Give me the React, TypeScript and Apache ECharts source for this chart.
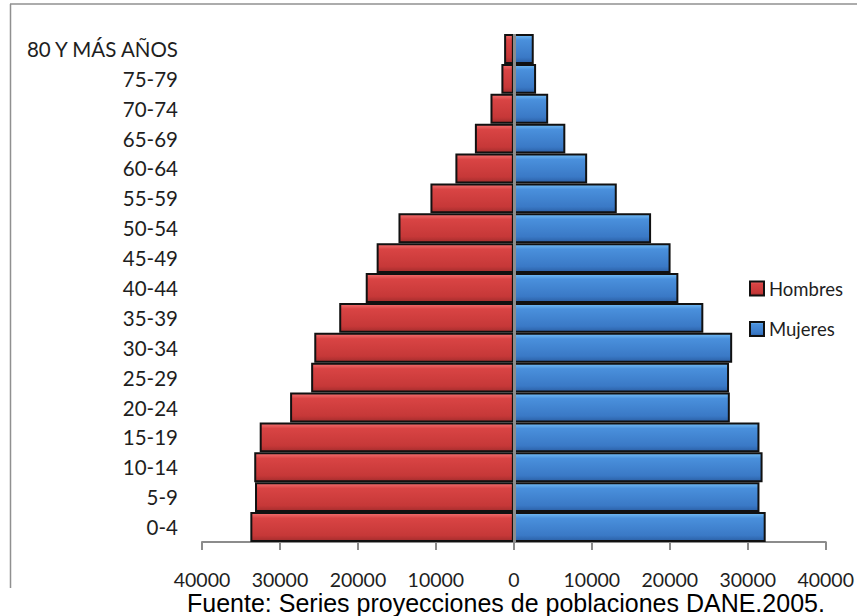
import React, { useEffect, useRef } from "react";
import * as echarts from "echarts";

// Age groups, bottom to top
const ageGroups = [
  "0-4",
  "5-9",
  "10-14",
  "15-19",
  "20-24",
  "25-29",
  "30-34",
  "35-39",
  "40-44",
  "45-49",
  "50-54",
  "55-59",
  "60-64",
  "65-69",
  "70-74",
  "75-79",
  "80 Y MÁS AÑOS",
];

// Population per age group
const hombres = [
  33800, 33200, 33300, 32600, 28700, 26000, 25600, 22400, 19000, 17600, 14800,
  10700, 7500, 5000, 3000, 1600, 1250,
];
const mujeres = [
  32300, 31500, 31900, 31500, 27700, 27600, 28000, 24300, 21100, 20100, 17600,
  13200, 9400, 6600, 4400, 2850, 2550,
];

const seriesNames = ["Hombres", "Mujeres"];
const sourceNote = "Fuente: Series proyecciones de poblaciones DANE.2005.";

const axisGray = "#8c8c8c";
const textColor = "#1e1e1e";
const labelFont = "Lato";

const redFill = new echarts.graphic.LinearGradient(0, 0, 0, 1, [
  { offset: 0, color: "#f27070" },
  { offset: 0.18, color: "#d94444" },
  { offset: 0.8, color: "#c63838" },
  { offset: 1, color: "#a42d2d" },
]);
const blueFill = new echarts.graphic.LinearGradient(0, 0, 0, 1, [
  { offset: 0, color: "#74bdf5" },
  { offset: 0.18, color: "#4a90dc" },
  { offset: 0.8, color: "#3a79c6" },
  { offset: 1, color: "#2b60a6" },
]);

export default function App() {
  const ref = useRef<HTMLDivElement>(null);

  useEffect(() => {
    if (!ref.current) return;
    const chart = echarts.init(ref.current, undefined, { renderer: "svg" });

    chart.setOption({
      animation: false,
      backgroundColor: "#ffffff",
      grid: { left: 202, right: 31, top: 34, bottom: 74, containLabel: false },
      xAxis: {
        type: "value",
        min: -40000,
        max: 40000,
        interval: 10000,
        axisLine: { show: true, lineStyle: { color: axisGray, width: 2 } },
        axisTick: { show: true, length: 8, lineStyle: { color: axisGray, width: 2 } },
        splitLine: { show: false },
        axisLabel: {
          formatter: (v: number) => String(Math.abs(v)),
          fontFamily: labelFont,
          fontSize: 19.5,
          lineHeight: 14,
          color: textColor,
          margin: 30,
        },
      },
      yAxis: {
        type: "category",
        data: ageGroups,
        axisLine: { show: false, onZero: false },
        axisTick: { show: false },
        splitLine: { show: false },
        axisLabel: {
          fontFamily: labelFont,
          fontSize: 20.5,
          color: textColor,
          margin: 24,
        },
      },
      legend: {
        orient: "vertical",
        left: 744,
        top: 274,
        itemWidth: 14,
        itemHeight: 14,
        itemGap: 21.5,
        icon: "rect",
        data: seriesNames,
        textStyle: {
          fontFamily: labelFont,
          fontSize: 18.5,
          color: textColor,
        },
      },
      series: [
        {
          name: seriesNames[0],
          type: "bar",
          data: hombres.map((v) => -v),
          barGap: "-100%",
          barCategoryGap: "0%",
          itemStyle: { color: redFill, borderColor: "#111111", borderWidth: 2 },
        },
        {
          name: seriesNames[1],
          type: "bar",
          data: mujeres,
          barGap: "-100%",
          barCategoryGap: "0%",
          itemStyle: { color: blueFill, borderColor: "#111111", borderWidth: 2 },
          markLine: {
            silent: true,
            symbol: "none",
            label: { show: false },
            lineStyle: { color: axisGray, width: 3, type: "solid" },
            data: [{ xAxis: 0 }],
          },
        },
      ],
      graphic: [
        {
          type: "line",
          z: 5,
          shape: { x1: 10, y1: 4, x2: 857, y2: 4 },
          style: { stroke: "#909090", lineWidth: 1.5 },
        },
        {
          type: "line",
          z: 5,
          shape: { x1: 10.5, y1: 4, x2: 10.5, y2: 588 },
          style: { stroke: "#909090", lineWidth: 1.5 },
        },
        {
          type: "text",
          z: 60,
          x: 187,
          y: 603,
          style: {
            text: sourceNote,
            fontFamily: "Liberation Sans",
            fontSize: 25,
            lineHeight: 24,
            fill: "#000000",
            verticalAlign: "middle",
            textAlign: "left",
          },
        },
      ],
    });

    return () => chart.dispose();
  }, []);

  return (
    <div
      ref={ref}
      style={{ position: "absolute", left: 0, top: 0, width: 857, height: 616 }}
    />
  );
}
